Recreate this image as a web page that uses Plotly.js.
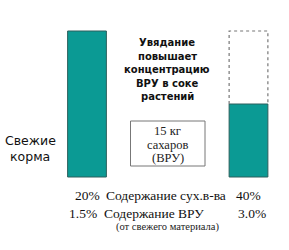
<!DOCTYPE html>
<html><head><meta charset="utf-8">
<script src="https://cdn.plot.ly/plotly-3.0.1.min.js"></script>
<style>html,body{margin:0;padding:0;background:#fff}#c{width:289px;height:250px}</style>
</head><body><div id="c"></div>
<script>
// Data
var stages = [0, 1];                 // 0 = свежие корма, 1 = провяленные
var massNow = [100, 50];             // relative fresh mass (filled bars)
var massOrig = [null, 100];          // original mass outline (dashed)
var dryMatter = ["20%", "40%"];
var wsc = ["1.5%", "3.0%"];
var rowLabels = ["Содержание сух.в-ва", "Содержание ВРУ"];
var note = "(от свежего материала)";
var boxText = ["15 кг", "сахаров", "(ВРУ)"];
var headline = ["Увядание", "повышает", "концентрацию", "ВРУ в соке", "растений"];
var leftLabel = ["Свежие", "корма"];

var W = 289, H = 250, bw = 0.24;
var teal = "#0b9a94", edge = "#2c5f5c";

var traces = [{
  type: "bar", x: stages, y: massNow, width: bw,
  marker: {color: teal, line: {color: edge, width: 1}},
  hoverinfo: "skip"
}];
// dashed outline for original mass
stages.forEach(function (s, i) {
  if (massOrig[i] == null) return;
  traces.push({
    type: "scatter", mode: "lines",
    x: [s - bw / 2, s - bw / 2, s + bw / 2, s + bw / 2],
    y: [massNow[i], massOrig[i], massOrig[i], massNow[i]],
    line: {color: "#777", width: 1.2, dash: "dot"}, hoverinfo: "skip"
  });
});

function px(x) { return x / W; }
function py(y) { return 1 - y / H; }
var serif = "Liberation Serif, Times New Roman, serif";
var comic = "DejaVu Sans, sans-serif";
var ann = [];
function A(o) { o.xref = "paper"; o.yref = "paper"; o.showarrow = false; o.yanchor = "middle"; o.borderpad = 0; o.borderwidth = 0; ann.push(o); }
headline.forEach(function (t, i) {
  A({x: px(167), y: py(43 + i * 13.4), text: "<b>" + t + "</b>", xanchor: "center",
    font: {family: comic, size: 10, color: "#111"}});
});
leftLabel.forEach(function (t, i) {
  A({x: px(30), y: py(140 + i * 16), text: t, xanchor: "center",
    font: {family: comic, size: 12.5, color: "#111"}});
});
boxText.forEach(function (t, i) {
  A({x: px(167.5), y: py(131 + i * 13.5), text: t, xanchor: "center",
    font: {family: serif, size: 12.5, color: "#222"}});
});
var rowsY = [195, 213];
var vals = [dryMatter, wsc];
var leftEnd = [100, 97], labStart = [106, 104], rightEnd = [261, 266];
rowsY.forEach(function (yy, r) {
  A({x: px(leftEnd[r]), y: py(yy), text: vals[r][0], xanchor: "right",
    font: {family: serif, size: 13.5, color: "#111"}});
  A({x: px(labStart[r]), y: py(yy), text: rowLabels[r], xanchor: "left",
    font: {family: serif, size: 13.5, color: "#111"}});
  A({x: px(rightEnd[r]), y: py(yy), text: vals[r][1], xanchor: "right",
    font: {family: serif, size: 13.5, color: "#111"}});
});
A({x: px(167), y: py(226.5), text: note, xanchor: "center",
  font: {family: serif, size: 10.5, color: "#222"}});

var layout = {
  width: W, height: H, margin: {l: 0, r: 0, t: 0, b: 0},
  paper_bgcolor: "#fff", plot_bgcolor: "#fff", showlegend: false, barmode: "overlay",
  xaxis: {range: [-87 / 161.5, (W - 87) / 161.5], visible: false, fixedrange: true},
  yaxis: {range: [-(H - 177) / 1.46, 177 / 1.46], visible: false, fixedrange: true},
  shapes: [{type: "rect", xref: "paper", yref: "paper", x0: px(130.5), x1: px(205), y0: py(121), y1: py(166),
    line: {color: "#777", width: 1}, fillcolor: "rgba(0,0,0,0)"}],
  annotations: ann
};
Plotly.newPlot("c", traces, layout, {displayModeBar: false, staticPlot: true});
</script></body></html>
